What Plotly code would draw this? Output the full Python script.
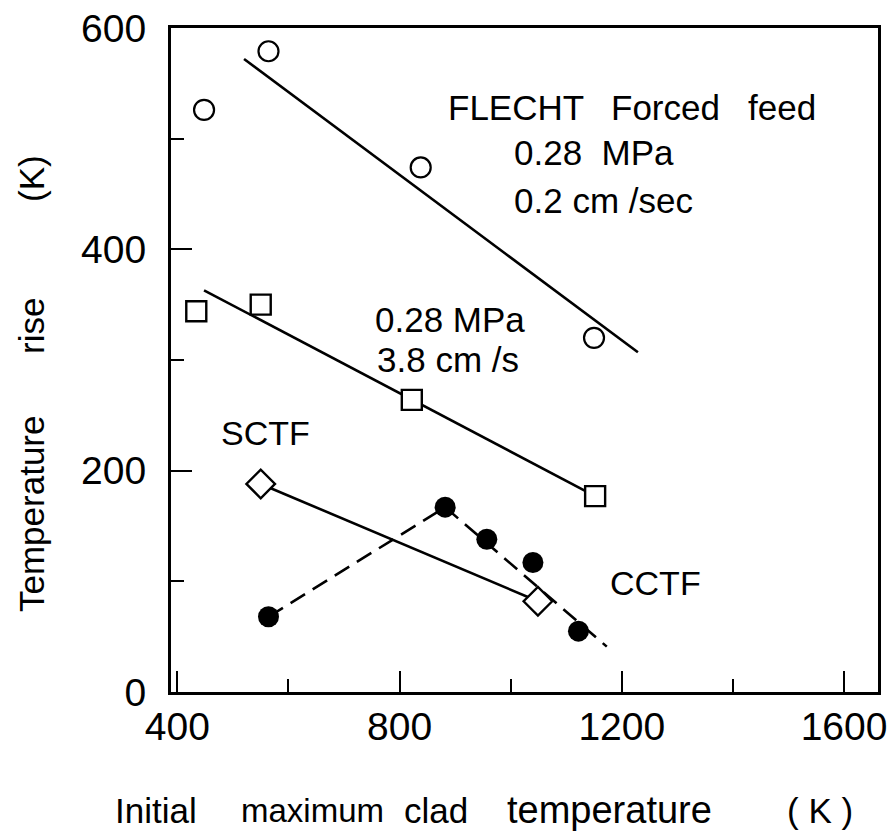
import plotly.graph_objects as go

# ---------------- data ----------------
flecht_02_x = [448, 564, 838, 1150]
flecht_02_y = [526, 579, 474, 320]
flecht_02_fit_x = [520, 1229]
flecht_02_fit_y = [572, 307]

flecht_38_x = [434, 550, 822, 1152]
flecht_38_y = [344, 350, 264, 177]
flecht_38_fit_x = [448, 1152]
flecht_38_fit_y = [363, 177]

sctf_x = [550, 1049]
sctf_y = [188, 82]

cctf_x = [564, 882, 957, 1040, 1122]
cctf_y = [68, 167, 138, 117, 55]
cctf_line_x = [564, 882, 1173]
cctf_line_y = [68, 167, 41]

x_ticks = [400, 800, 1200, 1600]
y_ticks = [0, 200, 400, 600]

# ---------------- layout geometry ----------------
W, H = 893, 835
L, R, T, B = 171, 15, 28, 143
PW, PH = W - L - R, H - T - B

def px(xp):
    return (xp - L) / PW

def py(yp):
    return (H - B - yp) / PH

TXT = "Liberation Sans, Arial, sans-serif"
REG = "Liberation Sans, Arial, sans-serif"
BLACK = "black"

fig = go.Figure()

# fitted line, 0.2 cm/sec
fig.add_trace(go.Scatter(x=flecht_02_fit_x, y=flecht_02_fit_y, mode="lines",
                         line=dict(color=BLACK, width=2.6), showlegend=False))
fig.add_trace(go.Scatter(x=flecht_02_x, y=flecht_02_y, mode="markers",
                         marker=dict(symbol="circle", size=20, color="white",
                                     line=dict(color=BLACK, width=2.2)),
                         showlegend=False))
# fitted line, 3.8 cm/s
fig.add_trace(go.Scatter(x=flecht_38_fit_x, y=flecht_38_fit_y, mode="lines",
                         line=dict(color=BLACK, width=2.6), showlegend=False))
fig.add_trace(go.Scatter(x=flecht_38_x, y=flecht_38_y, mode="markers",
                         marker=dict(symbol="square", size=20, color="white",
                                     line=dict(color=BLACK, width=2.4)),
                         showlegend=False))
# CCTF dashed
fig.add_trace(go.Scatter(x=cctf_line_x, y=cctf_line_y, mode="lines",
                         line=dict(color=BLACK, width=2.6, dash="17px,9px"),
                         showlegend=False))
# SCTF
fig.add_trace(go.Scatter(x=sctf_x, y=sctf_y, mode="lines+markers",
                         line=dict(color=BLACK, width=2.6),
                         marker=dict(symbol="diamond", size=22, color="white",
                                     line=dict(color=BLACK, width=2.4)),
                         showlegend=False))
fig.add_trace(go.Scatter(x=cctf_x, y=cctf_y, mode="markers",
                         marker=dict(symbol="circle", size=21, color=BLACK,
                                     line=dict(color=BLACK, width=0)),
                         showlegend=False))

annotations = []

def ann(text, xp, yp, size=35, xanchor="center", angle=0, font=TXT):
    annotations.append(dict(text=text, x=px(xp), y=py(yp), xref="paper", yref="paper",
                            xanchor=xanchor, yanchor="middle", showarrow=False,
                            textangle=angle,
                            font=dict(family=font, size=size, color=BLACK)))

# FLECHT block
ann("FLECHT", 516, 107)
ann("Forced", 665, 107)
ann("feed", 782, 107)
ann("0.28\u00a0\u00a0MPa", 512, 152, xanchor="left")
ann("0.2\u00a0cm\u00a0/sec", 512, 200, xanchor="left")
ann("0.28\u00a0MPa", 373, 319, xanchor="left")
ann("3.8\u00a0cm\u00a0/s", 375, 359, xanchor="left")
ann("SCTF", 265, 433, size=34)
ann("CCTF", 655, 583, size=34)

# x axis title words
ann("Initial", 156, 810)
ann("maximum", 312, 810, size=33)
ann("clad", 436, 810)
ann("temperature", 609, 810, size=38)
ann("(\u00a0K\u00a0)", 820, 810)

# y axis title words
ann("Temperature", 31, 514, angle=-90)
ann("rise", 31, 326, angle=-90)
ann("(K)", 31, 179, angle=-90)

fig.update_layout(
    width=W, height=H,
    margin=dict(l=L, r=R, t=T, b=B, autoexpand=False),
    paper_bgcolor="white", plot_bgcolor="white",
    annotations=annotations,
    showlegend=False,
)

fig.update_xaxes(
    range=[388.5, 1661.2], automargin=False,
    tickmode="array", tickvals=x_ticks, ticktext=[str(v) for v in x_ticks],
    ticks="inside", ticklen=21, tickwidth=1.5, tickcolor=BLACK,
    minor=dict(tickmode="linear", tick0=400, dtick=200, ticks="inside",
               ticklen=13, tickwidth=1.5, tickcolor=BLACK),
    showline=True, linewidth=3, linecolor=BLACK, mirror=True,
    showgrid=False, zeroline=False,
    tickfont=dict(family=REG, size=39, color=BLACK),
    ticklabelstandoff=-2,
)
fig.update_yaxes(
    range=[0, 600], automargin=False,
    tickmode="array", tickvals=y_ticks, ticktext=[str(v) for v in y_ticks],
    ticks="inside", ticklen=21, tickwidth=1.5, tickcolor=BLACK,
    minor=dict(tickmode="linear", tick0=0, dtick=100, ticks="inside",
               ticklen=13, tickwidth=1.5, tickcolor=BLACK),
    showline=True, linewidth=3, linecolor=BLACK, mirror=True,
    showgrid=False, zeroline=False,
    tickfont=dict(family=REG, size=39, color=BLACK),
    ticklabelstandoff=14,
)

fig.write_html("out.html",
               config={"displayModeBar": False},
               post_script="document.body.style.margin='0';document.body.style.padding='0';")
